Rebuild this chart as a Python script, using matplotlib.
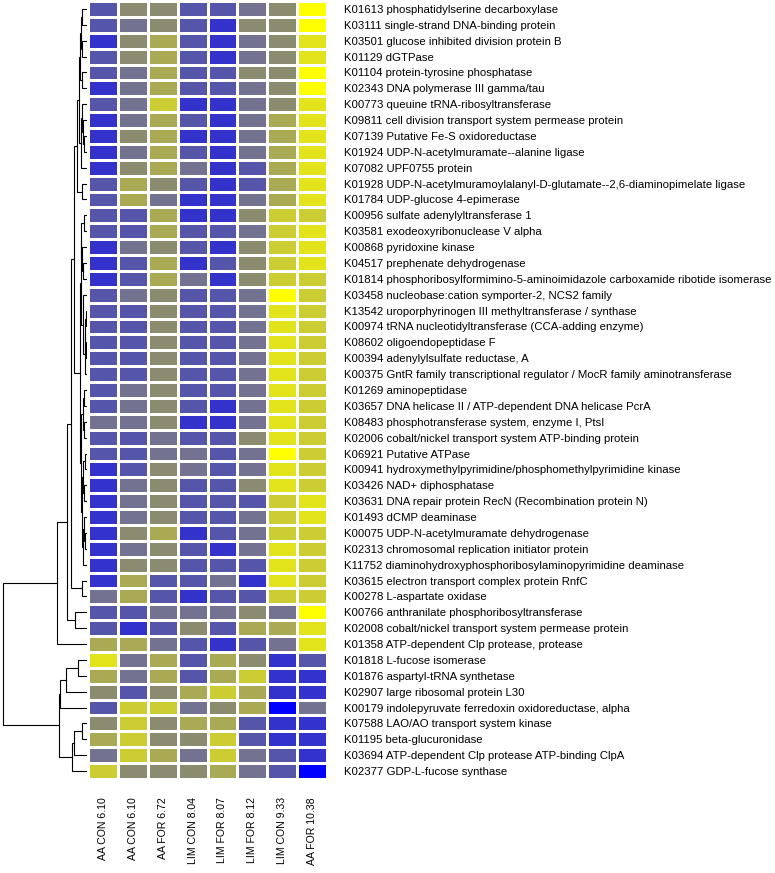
import numpy as np
import matplotlib
matplotlib.use("Agg")
import matplotlib.pyplot as plt
from matplotlib.colors import ListedColormap, BoundaryNorm

plt.rcParams["font.family"] = ["Liberation Sans", "DejaVu Sans"]

# column (sample) labels
samples = ["AA CON 6.10", "AA CON 6.10", "AA FOR 6.72", "LIM CON 8.04",
           "LIM FOR 8.07", "LIM FOR 8.12", "LIM CON 9.33", "AA FOR 10.38"]

# row (KO) labels, top to bottom
genes = [
    "K01613 phosphatidylserine decarboxylase",
    "K03111 single-strand DNA-binding protein",
    "K03501 glucose inhibited division protein B",
    "K01129 dGTPase",
    "K01104 protein-tyrosine phosphatase",
    "K02343 DNA polymerase III gamma/tau",
    "K00773 queuine tRNA-ribosyltransferase",
    "K09811 cell division transport system permease protein",
    "K07139 Putative Fe-S oxidoreductase",
    "K01924 UDP-N-acetylmuramate--alanine ligase",
    "K07082 UPF0755 protein",
    "K01928 UDP-N-acetylmuramoylalanyl-D-glutamate--2,6-diaminopimelate ligase",
    "K01784 UDP-glucose 4-epimerase",
    "K00956 sulfate adenylyltransferase 1",
    "K03581 exodeoxyribonuclease V alpha",
    "K00868 pyridoxine kinase",
    "K04517 prephenate dehydrogenase",
    "K01814 phosphoribosylformimino-5-aminoimidazole carboxamide ribotide isomerase",
    "K03458 nucleobase:cation symporter-2, NCS2 family",
    "K13542 uroporphyrinogen III methyltransferase / synthase",
    "K00974 tRNA nucleotidyltransferase (CCA-adding enzyme)",
    "K08602 oligoendopeptidase F",
    "K00394 adenylylsulfate reductase, A",
    "K00375 GntR family transcriptional regulator / MocR family aminotransferase",
    "K01269 aminopeptidase",
    "K03657 DNA helicase II / ATP-dependent DNA helicase PcrA",
    "K08483 phosphotransferase system, enzyme I, PtsI",
    "K02006 cobalt/nickel transport system ATP-binding protein",
    "K06921 Putative ATPase",
    "K00941 hydroxymethylpyrimidine/phosphomethylpyrimidine kinase",
    "K03426 NAD+ diphosphatase",
    "K03631 DNA repair protein RecN (Recombination protein N)",
    "K01493 dCMP deaminase",
    "K00075 UDP-N-acetylmuramate dehydrogenase",
    "K02313 chromosomal replication initiator protein",
    "K11752 diaminohydroxyphosphoribosylaminopyrimidine deaminase",
    "K03615 electron transport complex protein RnfC",
    "K00278 L-aspartate oxidase",
    "K00766 anthranilate phosphoribosyltransferase",
    "K02008 cobalt/nickel transport system permease protein",
    "K01358 ATP-dependent Clp protease, protease",
    "K01818 L-fucose isomerase",
    "K01876 aspartyl-tRNA synthetase",
    "K02907 large ribosomal protein L30",
    "K00179 indolepyruvate ferredoxin oxidoreductase, alpha",
    "K07588 LAO/AO transport system kinase",
    "K01195 beta-glucuronidase",
    "K03694 ATP-dependent Clp protease ATP-binding ClpA",
    "K02377 GDP-L-fucose synthase",
]

# binned relative abundance, 0 = lowest (blue) ... 8 = highest (yellow)
levels = [
    [2, 4, 4, 2, 2, 3, 4, 8],
    [2, 3, 4, 2, 1, 4, 4, 8],
    [1, 4, 5, 2, 1, 3, 4, 7],
    [2, 4, 5, 2, 1, 3, 4, 7],
    [2, 3, 5, 2, 2, 4, 4, 8],
    [1, 3, 5, 2, 2, 3, 4, 8],
    [2, 3, 6, 1, 1, 3, 4, 7],
    [1, 3, 5, 2, 1, 3, 5, 7],
    [1, 4, 5, 1, 1, 3, 5, 7],
    [1, 3, 5, 2, 1, 3, 5, 7],
    [1, 4, 5, 3, 1, 2, 5, 7],
    [2, 5, 4, 2, 1, 2, 5, 7],
    [2, 5, 3, 1, 1, 3, 5, 7],
    [2, 2, 5, 1, 1, 4, 6, 6],
    [2, 2, 5, 2, 2, 3, 6, 7],
    [1, 3, 4, 2, 1, 4, 6, 7],
    [1, 2, 5, 1, 2, 4, 6, 7],
    [1, 2, 5, 3, 1, 4, 6, 6],
    [2, 3, 4, 2, 2, 3, 8, 6],
    [2, 2, 4, 2, 2, 3, 7, 6],
    [2, 2, 4, 2, 2, 3, 7, 6],
    [2, 2, 4, 2, 2, 3, 7, 6],
    [2, 2, 4, 2, 2, 3, 7, 6],
    [2, 2, 4, 2, 2, 3, 7, 6],
    [2, 3, 4, 2, 2, 3, 7, 6],
    [2, 3, 4, 2, 1, 3, 7, 6],
    [3, 3, 4, 1, 1, 3, 7, 6],
    [2, 2, 3, 2, 2, 4, 7, 6],
    [2, 2, 3, 3, 2, 3, 8, 6],
    [1, 2, 4, 3, 2, 3, 7, 6],
    [1, 3, 4, 2, 2, 4, 7, 6],
    [1, 3, 4, 2, 2, 2, 6, 7],
    [1, 3, 4, 2, 2, 3, 6, 7],
    [1, 4, 5, 1, 2, 3, 6, 6],
    [1, 3, 4, 2, 1, 3, 7, 6],
    [1, 4, 4, 2, 2, 2, 7, 6],
    [1, 5, 2, 2, 3, 1, 7, 6],
    [3, 5, 2, 1, 2, 2, 6, 6],
    [2, 2, 3, 3, 3, 4, 3, 8],
    [2, 1, 2, 4, 2, 5, 5, 7],
    [5, 5, 3, 2, 1, 2, 3, 7],
    [7, 3, 5, 2, 5, 4, 1, 2],
    [5, 3, 5, 2, 5, 6, 1, 1],
    [4, 2, 4, 5, 6, 5, 1, 1],
    [2, 6, 6, 3, 4, 5, 0, 3],
    [4, 6, 4, 5, 5, 2, 1, 1],
    [5, 6, 4, 4, 6, 2, 1, 1],
    [3, 6, 5, 3, 6, 3, 2, 1],
    [6, 4, 4, 4, 5, 3, 2, 0],
]

palette = ["#0000FF", "#3333CC", "#5555AA", "#737391", "#8B8B70",
           "#AAAA55", "#CCCC33", "#E3E31C", "#FFFF00"]

# row clustering, scipy-style: (cluster a, cluster b, height); leaves are 0..48
merges = [
    (0, 1, 5), (2, 3, 5), (4, 5, 5), (49, 50, 6), (52, 51, 7),
    (8, 9, 3), (7, 54, 4), (6, 55, 5), (56, 10, 6), (53, 57, 8),
    (11, 12, 5), (58, 59, 10),
    (13, 14, 3), (16, 17, 4), (15, 62, 5), (61, 63, 6),
    (19, 20, 1), (21, 22, 1), (65, 66, 2), (67, 23, 2.5), (18, 68, 4),
    (64, 69, 6.5),
    (24, 25, 3), (26, 27, 3.5), (71, 72, 4.5),
    (28, 29, 2.5), (30, 31, 3), (74, 75, 4),
    (33, 34, 2), (32, 77, 3), (78, 35, 4), (76, 79, 5), (73, 80, 6),
    (70, 81, 7), (60, 82, 13),
    (36, 37, 5), (83, 84, 16), (38, 39, 12), (85, 86, 20), (87, 40, 30),
    (41, 42, 9), (89, 43, 21), (90, 44, 27),
    (45, 46, 5), (92, 47, 13), (93, 48, 15), (91, 94, 28),
    (88, 95, 84),
]

data = np.array(levels)
n_rows, n_cols = data.shape

W, H = 775, 873
fig = plt.figure(figsize=(W / 100, H / 100), dpi=100)
top, bottom = 1, 779
ax = fig.add_axes([88 / W, 1 - bottom / H, (327 - 88) / W, (bottom - top) / H])
axd = fig.add_axes([0, 1 - bottom / H, 87 / W, (bottom - top) / H])

cmap = ListedColormap(palette)
norm = BoundaryNorm(np.arange(len(palette) + 1) - 0.5, cmap.N)
ax.pcolormesh(np.arange(n_cols + 1) - 0.5, np.arange(n_rows + 1) - 0.5, data,
              cmap=cmap, norm=norm, edgecolor="white", linewidth=0.85)
ax.set_xlim(-0.5, n_cols - 0.5)
ax.set_ylim(n_rows - 0.5, -0.5)
ax.set_yticks(range(n_rows))
ax.set_yticklabels(genes, fontsize=8.2)
ax.yaxis.tick_right()
ax.set_xticks(range(n_cols))
ax.set_xticklabels(samples, rotation=90, fontsize=7.6)
ax.tick_params(axis="y", length=0, pad=12)
ax.tick_params(axis="x", length=0, pad=13)
for s in ax.spines.values():
    s.set_visible(False)

# dendrogram
pos = {i: (float(i), 0.0) for i in range(n_rows)}
for k, (a, b, h) in enumerate(merges):
    ya, ha = pos[a]
    yb, hb = pos[b]
    axd.plot([ha, h, h, hb], [ya, ya, yb, yb], color="black", lw=0.8,
             solid_joinstyle="miter")
    pos[n_rows + k] = ((ya + yb) / 2, h)

root_h = merges[-1][2]
axd.set_xlim(root_h * 87 / 84, 0)
axd.set_ylim(n_rows - 0.5, -0.5)
axd.axis("off")

fig.savefig("out.png", dpi=100)
